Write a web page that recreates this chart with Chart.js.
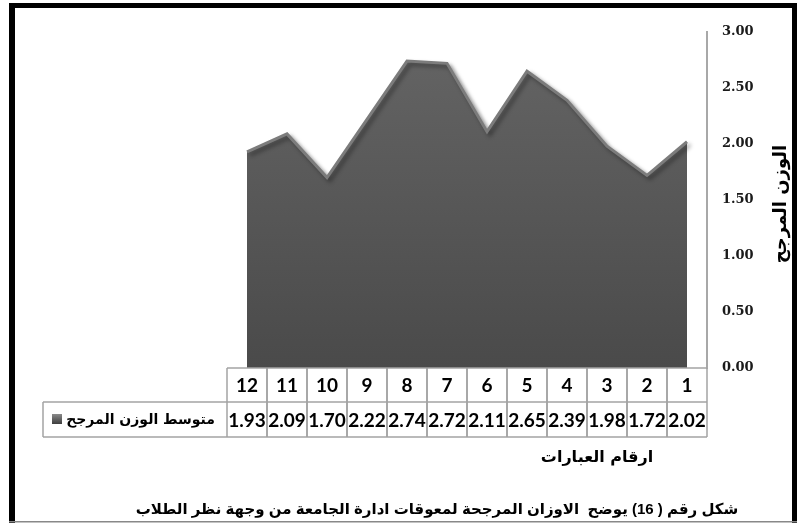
<!DOCTYPE html>
<html><head><meta charset="utf-8">
<script src="https://cdn.jsdelivr.net/npm/chart.js@4.4.1/dist/chart.umd.min.js"></script>
<style>html,body{margin:0;padding:0;background:#fff;}canvas{display:block;}</style>
</head><body>
<canvas id="c" width="804" height="524"></canvas>
<script>
const categories = ['1','2','3','4','5','6','7','8','9','10','11','12'];
const weights = [2.02,1.72,1.98,2.39,2.65,2.11,2.72,2.74,2.22,1.70,2.09,1.93];
const yTickValues = [0,0.5,1,1.5,2,2.5,3];
const seriesName = 'متوسط الوزن المرجح';
const yTitle = 'الوزن المرجح';
const xTitle = 'ارقام العبارات';
const caption = 'شكل رقم ( 16) يوضح  الاوزان المرجحة لمعوقات ادارة الجامعة من وجهة نظر الطلاب';

const shadowPlugin = {
  id: 'shadow',
  beforeDatasetsDraw(chart) {
    const ctx = chart.ctx;
    ctx.save();
    ctx.shadowColor = 'rgba(0,0,0,0.4)';
    ctx.shadowBlur = 4;
    ctx.shadowOffsetX = 3;
    ctx.shadowOffsetY = 3;
  },
  afterDatasetsDraw(chart) { chart.ctx.restore(); }
};

const tablePlugin = {
  id: 'table',
  afterDraw(chart) {
    const ctx = chart.ctx, xs = chart.scales.x, ca = chart.chartArea;
    const centers = categories.map((c, i) => xs.getPixelForValue(i));
    const step = Math.abs(centers[1] - centers[0]);
    const left = Math.min(...centers) - step / 2;
    const right = Math.max(...centers) + step / 2;
    const rowTop = ca.bottom, rowMid = rowTop + 34, rowBot = rowMid + 35;
    const legLeft = 43;
    ctx.save();
    // outer frame
    ctx.fillStyle = '#000';
    ctx.fillRect(9, 3, 788, 5);
    ctx.fillRect(9, 3, 6, 520);
    ctx.fillRect(792, 3, 5, 520);
    ctx.fillStyle = '#888';
    ctx.fillRect(9, 521, 788, 1.5);

    // table lines
    ctx.strokeStyle = '#a3a3a3';
    ctx.lineWidth = 1.5;
    const line = (a, b, c, d) => { ctx.beginPath(); ctx.moveTo(a, b); ctx.lineTo(c, d); ctx.stroke(); };
    line(left, rowTop, right, rowTop);
    line(legLeft, rowMid, right, rowMid);
    line(legLeft, rowBot, right, rowBot);
    line(legLeft, rowMid, legLeft, rowBot);
    centers.forEach(cx => { line(cx - step / 2, rowTop, cx - step / 2, rowBot); line(cx + step / 2, rowTop, cx + step / 2, rowBot); });

    // header and values
    ctx.fillStyle = '#000';
    ctx.font = "bold 19px Lato, 'Liberation Sans', sans-serif";
    ctx.textAlign = 'center';
    ctx.textBaseline = 'middle';
    categories.forEach((c, i) => {
      ctx.fillText(c, centers[i], (rowTop + rowMid) / 2 + 1);
      ctx.fillText(weights[i].toFixed(2), centers[i], (rowMid + rowBot) / 2 + 1);
    });

    // legend marker
    const mg = ctx.createLinearGradient(0, 414, 0, 424);
    mg.addColorStop(0, '#8a8a8a'); mg.addColorStop(1, '#3e3e3e');
    ctx.fillStyle = mg;
    ctx.fillRect(52, 414, 10, 10);
    // legend text
    ctx.fillStyle = '#000';
    ctx.direction = 'rtl';
    ctx.textAlign = 'right';
    ctx.font = "bold 14px 'DejaVu Sans', sans-serif";
    ctx.fillText(seriesName, 215, (rowMid + rowBot) / 2 + 1);

    // x title
    ctx.textAlign = 'center';
    ctx.font = "bold 16px 'DejaVu Sans', sans-serif";
    ctx.fillText(xTitle, 597, 458);

    // caption
    ctx.font = "bold 15px 'Liberation Sans', 'DejaVu Sans', sans-serif";
    ctx.fillText(caption, 437, 510);

    // y title
    ctx.save();
    ctx.translate(781, 204);
    ctx.rotate(-Math.PI / 2);
    ctx.font = "bold 18px 'DejaVu Sans', sans-serif";
    ctx.fillText(yTitle, 0, 0);
    ctx.restore();
    ctx.restore();
  }
};

new Chart(document.getElementById('c'), {
  type: 'line',
  data: {
    labels: categories,
    datasets: [{
      label: seriesName,
      data: weights,
      fill: 'origin',
      pointRadius: 0,
      tension: 0,
      borderColor: '#7c7c7c',
      borderWidth: 3,
      backgroundColor: (c) => {
        const ca = c.chart.chartArea;
        if (!ca) return '#585858';
        const g = c.chart.ctx.createLinearGradient(0, ca.top, 0, ca.bottom);
        g.addColorStop(0, '#656565');
        g.addColorStop(1, '#4a4a4a');
        return g;
      }
    }]
  },
  options: {
    responsive: false,
    devicePixelRatio: 1,
    animation: false,
    layout: { padding: { left: 227, top: 32, bottom: 156, right: 0 } },
    plugins: { legend: { display: false }, tooltip: { enabled: false } },
    scales: {
      x: { type: 'category', reverse: true, offset: true, display: false },
      y: {
        position: 'right',
        min: 0, max: 3,
        afterFit: (s) => { s.width = 97; },
        afterBuildTicks: (s) => { s.ticks = yTickValues.map(v => ({ value: v })); },
        grid: { display: false },
        border: { display: true, color: '#a8a8a8', width: 2 },
        ticks: {
          padding: 7,
          color: '#1a1a1a',
          font: { family: "'DejaVu Serif', serif", weight: 'bold', size: 13 },
          callback: (v) => Number(v).toFixed(2)
        }
      }
    }
  },
  plugins: [shadowPlugin, tablePlugin]
});
</script>
</body></html>
